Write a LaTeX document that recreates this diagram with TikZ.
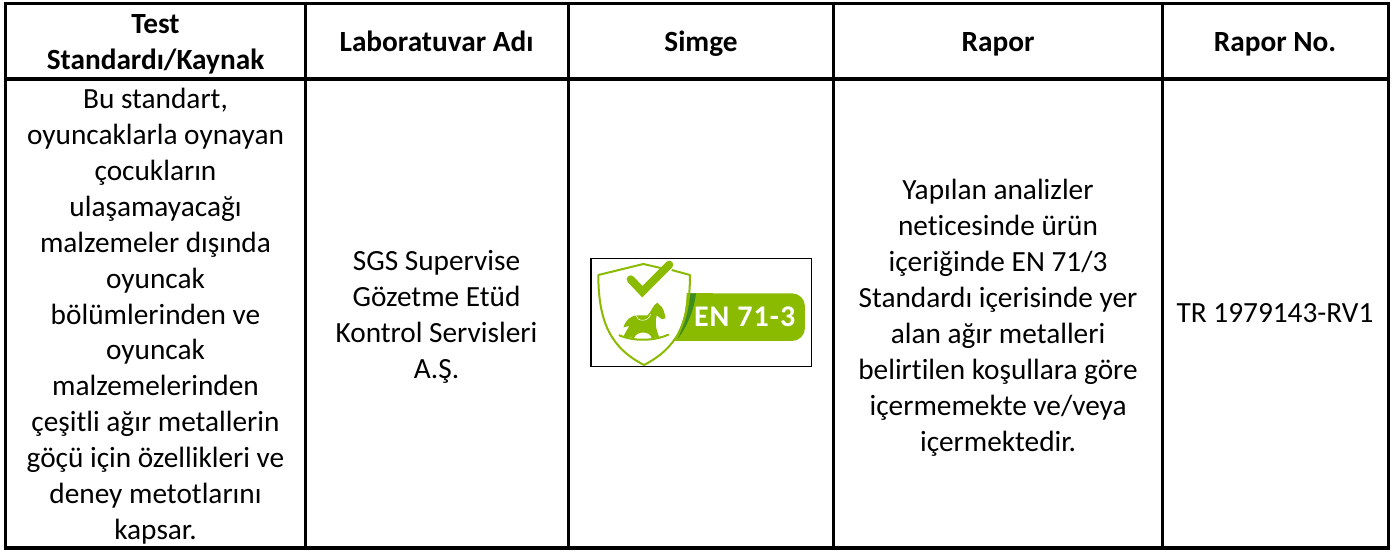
\documentclass[tikz,border=0pt]{standalone}
\usepackage{fontspec}
\setmainfont{Carlito}[Ligatures=NoCommon]
\definecolor{lime}{RGB}{139,187,0}
\definecolor{darkleaf}{RGB}{60,140,30}
\tikzset{
  x=1pt,y=-1pt,
  cell/.style={draw=black,line width=3.4pt,anchor=north west,inner sep=0pt,outer sep=0pt},
  txt/.style={anchor=north,align=center,inner sep=0pt,outer sep=0pt,
    font=\fontsize{29.3}{35.9}\selectfont,execute at begin node=\strut},
  headtxt/.style={txt,font=\fontsize{29.3}{35.9}\selectfont\bfseries},
  logoline/.style={draw=lime,line width=1.5pt,line join=round},
  logofill/.style={fill=lime,draw=none}
}
\begin{document}
\begin{tikzpicture}
\useasboundingbox (0,0) rectangle (1396,551);
\fill[white] (0,0) rectangle (1396,551);
\node[cell,minimum width=300pt,minimum height=75.5pt] (h1) at (5.5,3.5) {};
\node[cell,minimum width=263pt,minimum height=75.5pt] (h2) at (305.5,3.5) {};
\node[cell,minimum width=265pt,minimum height=75.5pt] (h3) at (568.5,3.5) {};
\node[cell,minimum width=329pt,minimum height=75.5pt] (h4) at (833.5,3.5) {};
\node[cell,minimum width=226pt,minimum height=75.5pt] (h5) at (1162.5,3.5) {};
\node[cell,minimum width=300pt,minimum height=469pt] (c1) at (5.5,79) {};
\node[cell,minimum width=263pt,minimum height=469pt] (c2) at (305.5,79) {};
\node[cell,minimum width=265pt,minimum height=469pt] (c3) at (568.5,79) {};
\node[cell,minimum width=329pt,minimum height=469pt] (c4) at (833.5,79) {};
\node[cell,minimum width=226pt,minimum height=469pt] (c5) at (1162.5,79) {};
\node[headtxt] (th1) at (155.5,14.3) {Test\\Standardı/Kaynak};
\node[headtxt] (th2) at (436.5,26.6) {Laboratuvar Adı};
\node[headtxt] (th3) at (701,26.6) {Simge};
\node[headtxt] (th4) at (998,26.6) {Rapor};
\node[headtxt] (th5) at (1275,26.6) {Rapor No.};
\node[txt] (t1) at (155.5,88.3) {Bu standart,\\oyuncaklarla oynayan\\çocukların\\ulaşamayacağı\\malzemeler dışında\\oyuncak\\bölümlerinden ve\\oyuncak\\malzemelerinden\\çeşitli ağır metallerin\\göçü için özellikleri ve\\deney metotlarını\\kapsar.};
\node[txt] (t2) at (436.5,250.3) {SGS Supervise\\Gözetme Etüd\\Kontrol Servisleri\\A.Ş.};
\node[txt] (t4) at (998,179.6) {Yapılan analizler\\neticesinde ürün\\içeriğinde EN 71/3\\Standardı içerisinde yer\\alan ağır metalleri\\belirtilen koşullara göre\\içermemekte ve/veya\\içermektedir.};
\node[txt] (t5) at (1275,297.2) {TR 1979143-RV1};
% logo
\begin{scope}[shift={(540,240)},x=0.3333pt,y=-0.3333pt]
\draw[black,line width=1.6pt] (153,55) rectangle (815,380);
\fill[lime,rounded corners=13pt] (500,160) -- (795,160) -- (795,303) -- (500,303);
\fill[lime] (400,160) rectangle (520,303);
\fill[white] (380,150) -- (440,150) -- (440,160) .. controls (438,210) and (430,250) .. (400,305) -- (380,310) -- cycle;
\fill[darkleaf] (445,160) -- (468,160) .. controls (462,210) and (442,260) .. (412,298) .. controls (430,262) and (442,210) .. (445,160) -- cycle;
\draw[logoline,line width=2pt] (362,84) -- (310,72) -- (175,105) .. controls (175,250) and (215,325) .. (312,375) .. controls (409,325) and (450,250) .. (450,105) -- (395,90);
\draw[lime,line width=8pt,line cap=round,line join=miter] (272,118) -- (307,155) -- (388,74);
\fill[logofill] (250,262) .. controls (258,240) and (270,228) .. (292,226) -- (322,226) .. controls (335,215) and (338,195) .. (352,188) -- (358,194) .. controls (370,200) and (374,222) .. (377,234) -- (366,238) -- (350,226) .. controls (346,245) and (345,262) .. (358,292) -- (335,294) .. controls (330,272) and (290,272) .. (282,294) -- (250,290) .. controls (256,278) and (262,268) .. (268,258) -- cycle;
\draw[lime,line width=2pt,line cap=round] (238,286) .. controls (280,304) and (340,304) .. (385,284);
\draw[white,line width=.5pt] (288,226) .. controls (290,245) and (325,248) .. (332,222);
\node[text=white,inner sep=0pt,font=\fontsize{30}{30}\selectfont\bfseries\addfontfeature{LetterSpace=3.5}] (logotext) at (614,231) {EN 71-3};
\end{scope}
\end{tikzpicture}
\end{document}
